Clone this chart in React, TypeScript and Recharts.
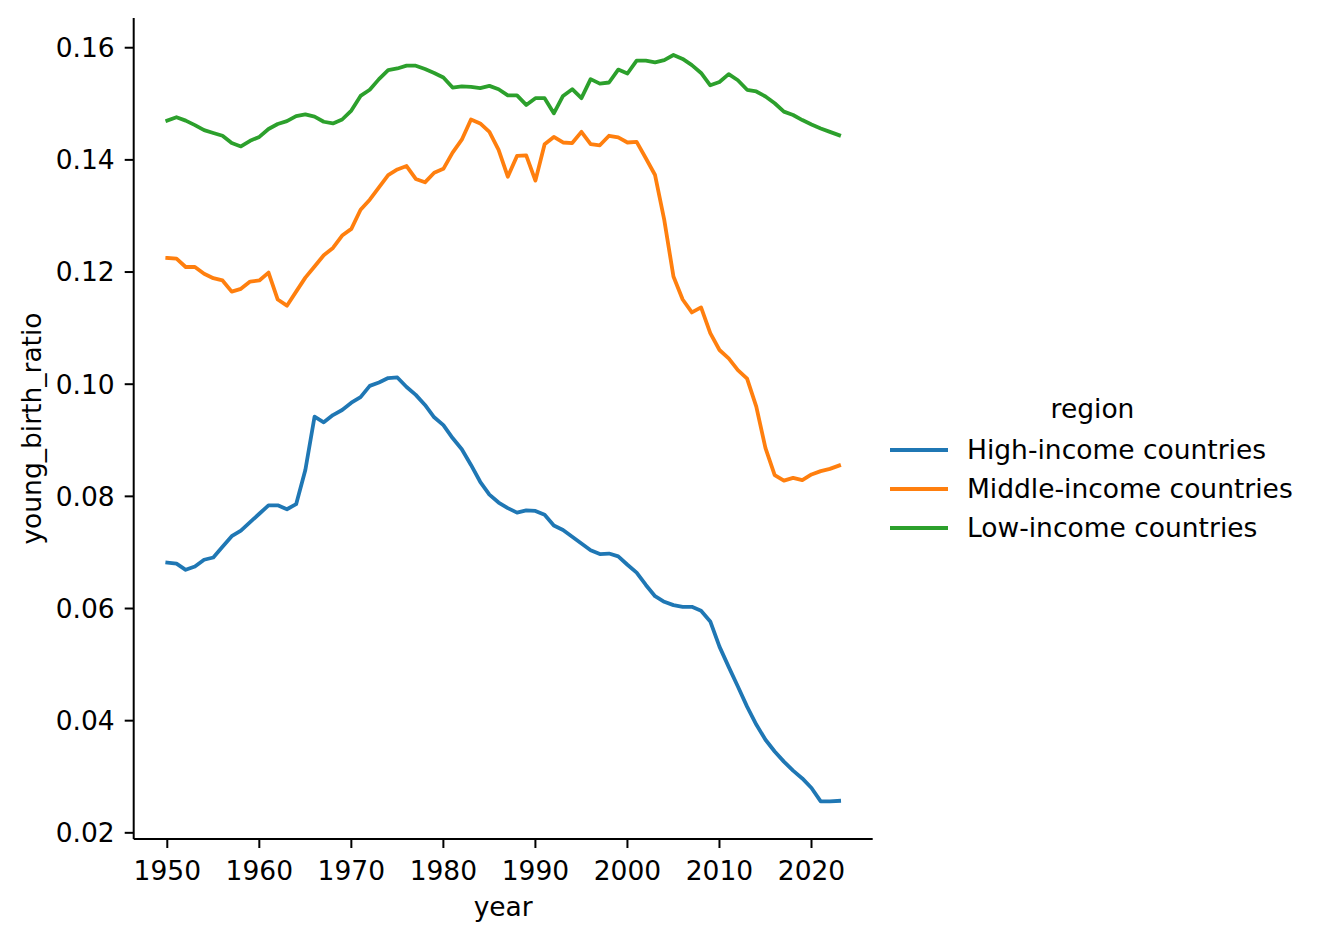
import { LineChart, Line, XAxis, YAxis, Legend } from 'recharts';

const years = [
  1950, 1951, 1952, 1953, 1954, 1955, 1956, 1957, 1958, 1959,
  1960, 1961, 1962, 1963, 1964, 1965, 1966, 1967, 1968, 1969,
  1970, 1971, 1972, 1973, 1974, 1975, 1976, 1977, 1978, 1979,
  1980, 1981, 1982, 1983, 1984, 1985, 1986, 1987, 1988, 1989,
  1990, 1991, 1992, 1993, 1994, 1995, 1996, 1997, 1998, 1999,
  2000, 2001, 2002, 2003, 2004, 2005, 2006, 2007, 2008, 2009,
  2010, 2011, 2012, 2013, 2014, 2015, 2016, 2017, 2018, 2019,
  2020, 2021, 2022, 2023,
];

const highIncome = [
  0.0682, 0.068, 0.0669, 0.0675, 0.0687, 0.0691, 0.071, 0.0729, 0.0739, 0.0754,
  0.0769, 0.0784, 0.0784, 0.0777, 0.0786, 0.0847, 0.0942, 0.0932, 0.0945, 0.0954,
  0.0967, 0.0977, 0.0997, 0.1003, 0.1011, 0.1012, 0.0995, 0.0981, 0.0963, 0.0941,
  0.0927, 0.0904, 0.0884, 0.0856, 0.0826, 0.0803, 0.0789, 0.0779, 0.0771, 0.0775,
  0.0774, 0.0767, 0.0748, 0.074, 0.0728, 0.0716, 0.0704, 0.0697, 0.0698, 0.0693,
  0.0678, 0.0664, 0.0642, 0.0622, 0.0612, 0.0606, 0.0603, 0.0603, 0.0596, 0.0577,
  0.0532, 0.0496, 0.0461, 0.0425, 0.0393, 0.0366, 0.0345, 0.0327, 0.0311, 0.0297,
  0.028, 0.0256, 0.0256, 0.0257,
];

const middleIncome = [
  0.1225, 0.1224, 0.1209, 0.1209, 0.1197, 0.1189, 0.1185, 0.1165, 0.117, 0.1183,
  0.1185, 0.1199, 0.1151, 0.114, 0.1165, 0.119, 0.121, 0.123, 0.1243, 0.1265,
  0.1277, 0.1311, 0.1329, 0.1351, 0.1373, 0.1383, 0.1389, 0.1366, 0.136, 0.1377,
  0.1384, 0.1413, 0.1436, 0.1472, 0.1465, 0.145, 0.1418, 0.137, 0.1407, 0.1408,
  0.1363, 0.1428, 0.1441, 0.1431, 0.143, 0.145, 0.1428, 0.1426, 0.1443, 0.144,
  0.1431, 0.1432, 0.1403, 0.1373, 0.1293, 0.1192, 0.1151, 0.1128, 0.1137, 0.1091,
  0.1061, 0.1046, 0.1025, 0.101, 0.096, 0.0886, 0.0838, 0.0828, 0.0833, 0.0829,
  0.0839, 0.0845, 0.0849, 0.0855,
];

const lowIncome = [
  0.147, 0.1476, 0.147, 0.1462, 0.1453, 0.1448, 0.1443, 0.143, 0.1424, 0.1434,
  0.1441, 0.1455, 0.1464, 0.1469, 0.1478, 0.1481, 0.1477, 0.1468, 0.1465, 0.1472,
  0.1488, 0.1514, 0.1525, 0.1544, 0.156, 0.1563, 0.1568, 0.1568, 0.1562, 0.1555,
  0.1547, 0.1529, 0.1531, 0.153, 0.1528, 0.1532, 0.1526, 0.1515, 0.1515, 0.1498,
  0.151, 0.151, 0.1483, 0.1514, 0.1526, 0.151, 0.1544, 0.1536, 0.1538, 0.1561,
  0.1554, 0.1577, 0.1577, 0.1574, 0.1578, 0.1587, 0.158, 0.1569, 0.1555, 0.1533,
  0.1539, 0.1553, 0.1542, 0.1525, 0.1522, 0.1513, 0.1501, 0.1486, 0.148, 0.1471,
  0.1463, 0.1456, 0.145, 0.1444,
];

const series = [
  { key: 'high', name: 'High-income countries', color: '#1f77b4' },
  { key: 'middle', name: 'Middle-income countries', color: '#ff7f0e' },
  { key: 'low', name: 'Low-income countries', color: '#2ca02c' },
];

const xTicks = [1950, 1960, 1970, 1980, 1990, 2000, 2010, 2020];
const yTicks = [0.02, 0.04, 0.06, 0.08, 0.1, 0.12, 0.14, 0.16];

const rows = years.map((year, i) => ({
  year,
  high: highIncome[i],
  middle: middleIncome[i],
  low: lowIncome[i],
}));

const FONT = 'DejaVu Sans, sans-serif';
const FS = 26.5;

function renderLegend() {
  return (
    <div style={{ fontFamily: FONT, fontSize: FS, color: '#000', lineHeight: '39px' }}>
      <div style={{ textAlign: 'center', height: 41 }}>region</div>
      {series.map((s) => (
        <div key={s.key} style={{ display: 'flex', alignItems: 'center', height: 39 }}>
          <div style={{ marginLeft: 10, width: 58, height: 4, background: s.color }} />
          <span style={{ marginLeft: 19, whiteSpace: 'nowrap' }}>{s.name}</span>
        </div>
      ))}
    </div>
  );
}

export default function App() {
  return (
    <div style={{ position: 'absolute', left: 0, top: 0, width: 1317, height: 940, background: '#fff' }}>
      <LineChart
        width={1317}
        height={940}
        data={rows}
        margin={{ top: 18, right: 444.3, left: 13.7, bottom: 24 }}
      >
        <XAxis
          dataKey="year"
          type="number"
          domain={[1946.35, 2026.65]}
          ticks={xTicks}
          allowDataOverflow
          height={77}
          tickSize={9}
          tickMargin={13}
          axisLine={{ stroke: '#000', strokeWidth: 2 }}
          tickLine={{ stroke: '#000', strokeWidth: 2 }}
          tick={{ fill: '#000', fontSize: FS, fontFamily: FONT }}
          label={{ value: 'year', position: 'insideBottom', offset: 0, fill: '#000', fontSize: FS, fontFamily: FONT }}
        />
        <YAxis
          type="number"
          domain={[0.0189, 0.1653]}
          ticks={yTicks}
          allowDataOverflow
          width={120}
          tickSize={9}
          tickMargin={10}
          tickFormatter={(v: number) => v.toFixed(2)}
          axisLine={{ stroke: '#000', strokeWidth: 2 }}
          tickLine={{ stroke: '#000', strokeWidth: 2 }}
          tick={{ fill: '#000', fontSize: FS, fontFamily: FONT }}
          label={{
            value: 'young_birth_ratio',
            angle: -90,
            position: 'insideLeft',
            offset: 17.5,
            fill: '#000',
            fontSize: FS,
            fontFamily: FONT,
            style: { textAnchor: 'middle' },
          }}
        />
        <Legend
          layout="vertical"
          align="center"
          verticalAlign="middle"
          wrapperStyle={{ left: 880, top: 389, width: 425 }}
          content={renderLegend}
        />
        {series.map((s) => (
          <Line
            key={s.key}
            type="linear"
            dataKey={s.key}
            name={s.name}
            stroke={s.color}
            strokeWidth={3.8}
            strokeLinejoin="round"
            strokeLinecap="square"
            dot={false}
            activeDot={false}
            isAnimationActive={false}
          />
        ))}
      </LineChart>
    </div>
  );
}
